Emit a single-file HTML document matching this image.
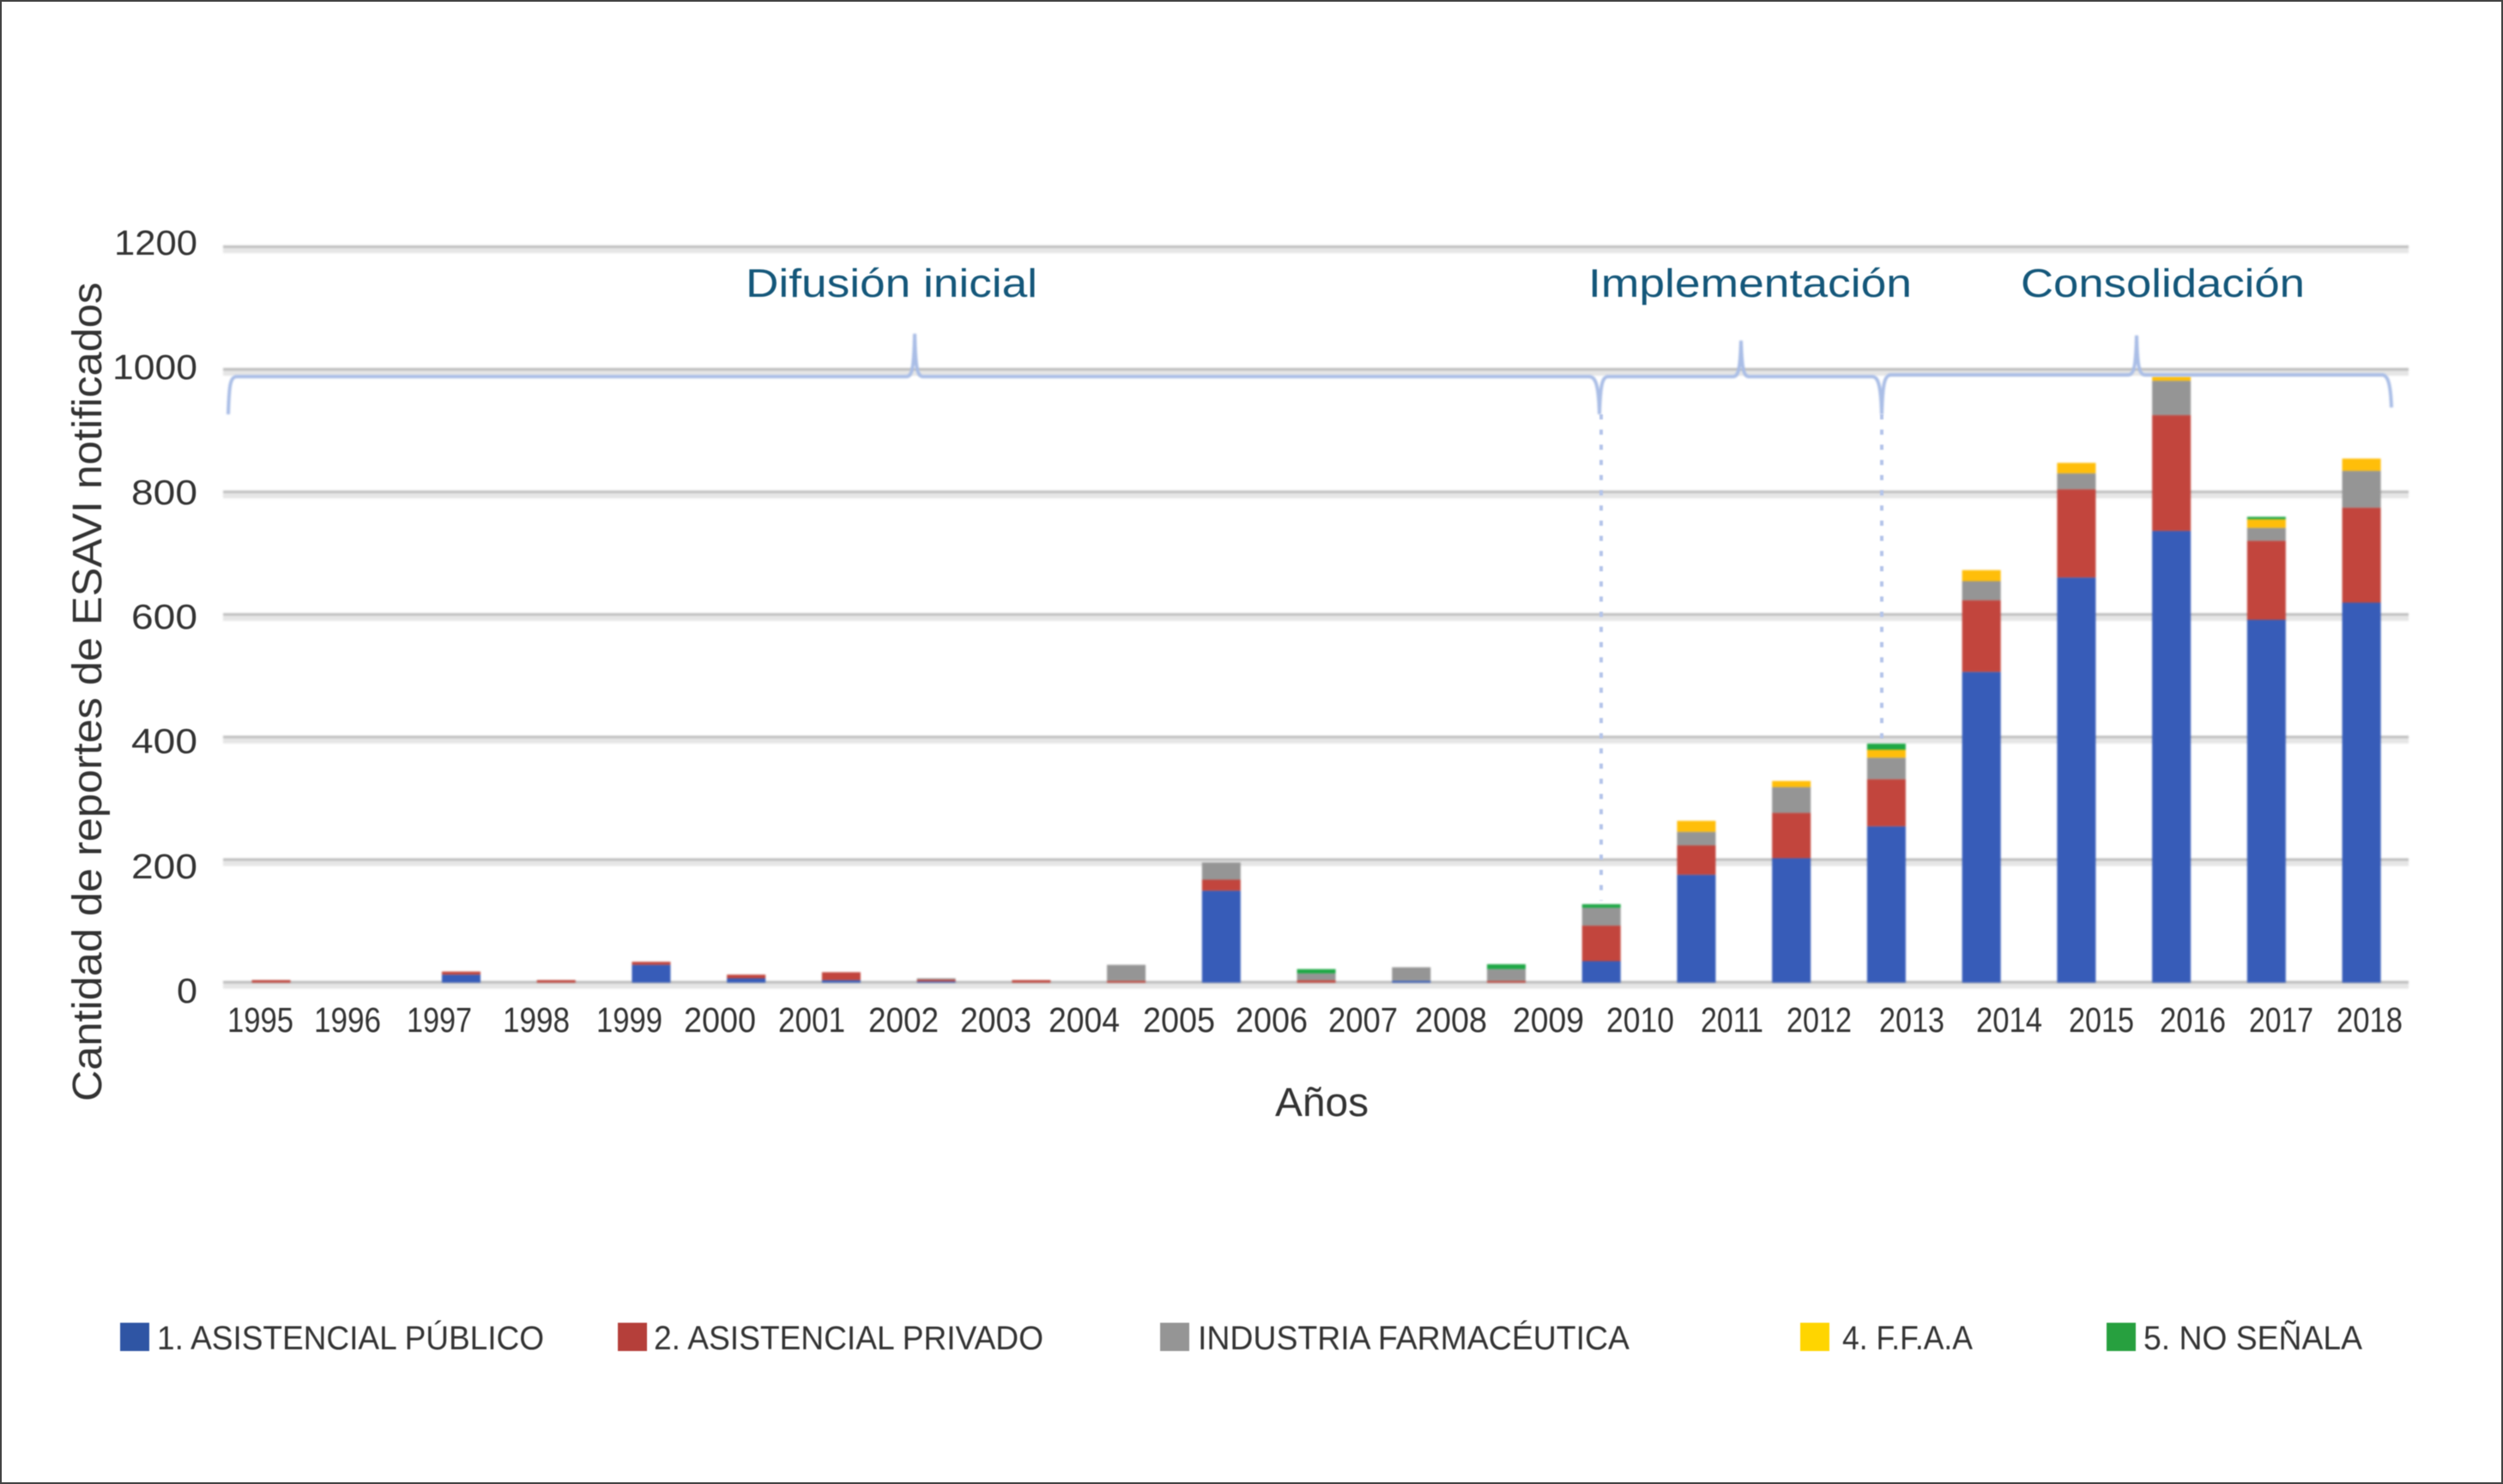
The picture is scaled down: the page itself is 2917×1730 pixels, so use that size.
<!DOCTYPE html>
<html lang="es">
<head>
<meta charset="utf-8">
<title>Cantidad de reportes de ESAVI notificados</title>
<style>
html,body{margin:0;padding:0;background:#fff;}
svg{display:block;}
text{font-family:"Liberation Sans",sans-serif;fill:#333;}
.soft{filter:blur(0.6px);}
.marks{filter:blur(1px);}
.dots{filter:blur(0.7px);}
</style>
</head>
<body>
<svg id="chart" xmlns="http://www.w3.org/2000/svg" width="2917" height="1730" viewBox="0 0 2917 1730">
  <rect x="1" y="1" width="2915" height="1728" fill="#fff" stroke="#444" stroke-width="2"/>
  <g id="grid" class="marks"></g>
  <g class="dots" fill="none" stroke="#b4c4ea" stroke-width="4" stroke-dasharray="6 11.7">
    <line x1="1866" y1="483" x2="1866" y2="1050"/>
    <line x1="2193" y1="483" x2="2193" y2="862"/>
  </g>
  <g id="bars" class="marks"></g>
  <g class="marks" fill="none" stroke="#a9bde6" stroke-width="4">
    <path d="M266 483 C267 450 268 439 276 439 L1056 439 C1063 439 1065 430 1066 389 C1067 430 1069 439 1076 439 L1852 439 C1860 439 1863 450 1864 483"/>
    <path d="M1864 483 C1865 450 1867 439 1874 439 L2020 439 C2026 439 2028 430 2029 397 C2030 430 2032 439 2038 439 L2182 439 C2189 439 2192 450 2193 483"/>
    <path d="M2193 483 C2194 448 2196 437 2204 437 L2480 437 C2487 437 2489 428 2490 391 C2491 428 2493 437 2500 437 L2776 437 C2783 437 2786 448 2787 475"/>
  </g>
  <g class="soft" font-size="41">
    <text x="133" y="297" textLength="97" lengthAdjust="spacingAndGlyphs">1200</text>
    <text x="131" y="442" textLength="99" lengthAdjust="spacingAndGlyphs">1000</text>
    <text x="153" y="588" textLength="77" lengthAdjust="spacingAndGlyphs">800</text>
    <text x="153" y="733" textLength="77" lengthAdjust="spacingAndGlyphs">600</text>
    <text x="153" y="878" textLength="77" lengthAdjust="spacingAndGlyphs">400</text>
    <text x="153" y="1024" textLength="77" lengthAdjust="spacingAndGlyphs">200</text>
    <text x="206" y="1169" textLength="24" lengthAdjust="spacingAndGlyphs">0</text>
  </g>
  <g class="soft" font-size="41">
    <text x="265" y="1203" textLength="77" lengthAdjust="spacingAndGlyphs">1995</text>
    <text x="366" y="1203" textLength="78" lengthAdjust="spacingAndGlyphs">1996</text>
    <text x="474" y="1203" textLength="76" lengthAdjust="spacingAndGlyphs">1997</text>
    <text x="586" y="1203" textLength="78" lengthAdjust="spacingAndGlyphs">1998</text>
    <text x="695" y="1203" textLength="77" lengthAdjust="spacingAndGlyphs">1999</text>
    <text x="797" y="1203" textLength="84" lengthAdjust="spacingAndGlyphs">2000</text>
    <text x="907" y="1203" textLength="78" lengthAdjust="spacingAndGlyphs">2001</text>
    <text x="1012" y="1203" textLength="82" lengthAdjust="spacingAndGlyphs">2002</text>
    <text x="1119" y="1203" textLength="83" lengthAdjust="spacingAndGlyphs">2003</text>
    <text x="1222" y="1203" textLength="83" lengthAdjust="spacingAndGlyphs">2004</text>
    <text x="1332" y="1203" textLength="84" lengthAdjust="spacingAndGlyphs">2005</text>
    <text x="1440" y="1203" textLength="84" lengthAdjust="spacingAndGlyphs">2006</text>
    <text x="1548" y="1203" textLength="81" lengthAdjust="spacingAndGlyphs">2007</text>
    <text x="1649" y="1203" textLength="84" lengthAdjust="spacingAndGlyphs">2008</text>
    <text x="1763" y="1203" textLength="83" lengthAdjust="spacingAndGlyphs">2009</text>
    <text x="1872" y="1203" textLength="79" lengthAdjust="spacingAndGlyphs">2010</text>
    <text x="1982" y="1203" textLength="73" lengthAdjust="spacingAndGlyphs">2011</text>
    <text x="2082" y="1203" textLength="76" lengthAdjust="spacingAndGlyphs">2012</text>
    <text x="2190" y="1203" textLength="76" lengthAdjust="spacingAndGlyphs">2013</text>
    <text x="2303" y="1203" textLength="77" lengthAdjust="spacingAndGlyphs">2014</text>
    <text x="2411" y="1203" textLength="76" lengthAdjust="spacingAndGlyphs">2015</text>
    <text x="2517" y="1203" textLength="77" lengthAdjust="spacingAndGlyphs">2016</text>
    <text x="2621" y="1203" textLength="75" lengthAdjust="spacingAndGlyphs">2017</text>
    <text x="2723" y="1203" textLength="77" lengthAdjust="spacingAndGlyphs">2018</text>
  </g>
  <text class="soft" font-size="48" text-anchor="start" textLength="955" lengthAdjust="spacingAndGlyphs" transform="translate(118,1284) rotate(-90)">Cantidad de reportes de ESAVI notificados</text>
  <text class="soft" font-size="47" x="1486" y="1301" textLength="109" lengthAdjust="spacingAndGlyphs">Años</text>
  <g class="soft" font-size="46">
    <text x="869" y="346" textLength="340" lengthAdjust="spacingAndGlyphs" style="fill:#14577a">Difusión inicial</text>
    <text x="1851" y="346" textLength="377" lengthAdjust="spacingAndGlyphs" style="fill:#14577a">Implementación</text>
    <text x="2355" y="346" textLength="331" lengthAdjust="spacingAndGlyphs" style="fill:#14577a">Consolidación</text>
  </g>
  <g class="soft" font-size="39">
    <g>
      <rect x="140" y="1542" width="34" height="33" fill="#2f55a4"/>
      <text x="183" y="1573" textLength="451" lengthAdjust="spacingAndGlyphs">1. ASISTENCIAL PÚBLICO</text>
    </g>
    <g>
      <rect x="720" y="1542" width="34" height="33" fill="#b53f3a"/>
      <text x="762" y="1573" textLength="454" lengthAdjust="spacingAndGlyphs">2. ASISTENCIAL PRIVADO</text>
    </g>
    <g>
      <rect x="1352" y="1542" width="34" height="33" fill="#959595"/>
      <text x="1396" y="1573" textLength="503" lengthAdjust="spacingAndGlyphs">INDUSTRIA FARMACÉUTICA</text>
    </g>
    <g>
      <rect x="2098" y="1542" width="34" height="33" fill="#ffd500"/>
      <text x="2147" y="1573" textLength="152" lengthAdjust="spacingAndGlyphs">4. F.F.A.A</text>
    </g>
    <g>
      <rect x="2455" y="1542" width="34" height="33" fill="#27a03f"/>
      <text x="2498" y="1573" textLength="255" lengthAdjust="spacingAndGlyphs">5. NO SEÑALA</text>
    </g>
  </g>
</svg>
<script>
const categories = ["1995","1996","1997","1998","1999","2000","2001","2002","2003","2004","2005","2007","2008","2009","2010","2011","2012","2013","2014","2015","2016","2017","2018"];
const publico = [0,0,13,0,29,7,4,2,0,0,150,0,3,0,35,176,203,255,507,661,737,592,620];
const privado = [4,0,5,4,5,6,13,3,4,3,18,4,0,3,58,48,74,77,117,144,189,129,155];
const industria = [0,0,0,0,0,0,0,2,0,26,28,11,22,19,29,22,42,35,31,26,56,21,60];
const ffaa = [0,0,0,0,0,0,0,0,0,0,0,0,0,0,0,18,10,13,18,17,7,14,20];
const noSenala = [0,0,0,0,0,0,0,0,0,0,0,7,0,8,6,0,0,10,0,0,0,4,0];
const yTicks = [0,200,400,600,800,1000,1200];

const NS = "http://www.w3.org/2000/svg";
const seriesOrder = [
  {key: "publico", values: publico, color: "#375cb8"},
  {key: "privado", values: privado, color: "#c2453d"},
  {key: "industria", values: industria, color: "#959595"},
  {key: "ffaa", values: ffaa, color: "#ffbe0a"},
  {key: "no-senala", values: noSenala, color: "#1fa846"}
];

function yScale(v) { return 1145.5 - v * 0.7145; }
function xScale(i) { return 316 + i * 110.73; }
const BAR_WIDTH = 45;

const gridGroup = document.getElementById("grid");
yTicks.forEach(function (t) {
  const dark = document.createElementNS(NS, "rect");
  
  
  dark.setAttribute("x", 260);
  dark.setAttribute("y", yScale(t) - 2);
  dark.setAttribute("width", 2547);
  dark.setAttribute("height", 3);
  dark.setAttribute("fill", "#bdbdbd");
  gridGroup.appendChild(dark);
  const light = document.createElementNS(NS, "rect");
  
  
  light.setAttribute("x", 260);
  light.setAttribute("y", yScale(t) + 1);
  light.setAttribute("width", 2547);
  light.setAttribute("height", 6);
  light.setAttribute("fill", "#e6e6e6");
  gridGroup.appendChild(light);
});

const barGroup = document.getElementById("bars");
categories.forEach(function (cat, i) {
  let acc = 0;
  seriesOrder.forEach(function (s) {
    const v = s.values[i];
    if (!v) return;
    const top = yScale(acc + v);
    const bottom = yScale(acc);
    const r = document.createElementNS(NS, "rect");
    
    
    r.setAttribute("x", xScale(i) - BAR_WIDTH / 2);
    r.setAttribute("y", top);
    r.setAttribute("width", BAR_WIDTH);
    r.setAttribute("height", bottom - top);
    r.setAttribute("fill", s.color);
    barGroup.appendChild(r);
    acc += v;
  });
});
</script>
</body>
</html>
